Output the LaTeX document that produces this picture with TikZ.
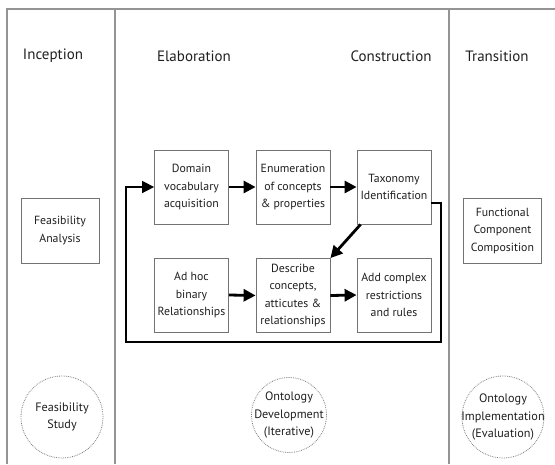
\documentclass[tikz,border=0pt]{standalone}
\usepackage{fontspec}
\setmainfont{PT Sans}
\usetikzlibrary{arrows.meta,calc}
\tikzset{
  frameline/.style={draw=black!42, line width=1.2pt},
  stepbox/.style={draw=black!55, line width=0.8pt, minimum width=74pt, minimum height=74pt, inner sep=1pt, align=center, font=\fontsize{11.8}{17.5}\selectfont, text=black!88},
  sidebox/.style={draw=black!55, line width=0.8pt, minimum width=78pt, minimum height=65pt, inner sep=1pt, align=center, font=\fontsize{11.8}{17.5}\selectfont, text=black!88},
  phase/.style={circle, draw=black!50, densely dotted, line width=0.8pt, align=center, inner sep=-14pt, font=\fontsize{12.2}{17.5}\selectfont, text=black!88},
  heading/.style={font=\fontsize{15}{17}\selectfont, text=black!88},
  bigarrow/.style={line width=2.8pt, -{Triangle[length=12pt,width=12pt]}},
  looparrow/.style={line width=1.6pt, -{Triangle[length=12pt,width=12pt]}}
}
\begin{document}
\begin{tikzpicture}[x=1pt,y=-1pt]
\useasboundingbox (0,0) rectangle (555,464);
% frame
\draw[frameline] (7,464) -- (7,9) -- (556,9);
\draw[frameline] (115,9) -- (115,464);
\draw[frameline] (449,9) -- (449,464);
% headings
\node[heading] (hinc) at (53,56) {Inception};
\node[heading] (hela) at (194,56) {Elaboration};
\node[heading] (hcon) at (391,56) {Construction};
\node[heading] (htra) at (497,56) {Transition};
% side boxes
\node[sidebox] (fa) at (60,230.5) {Feasibility\\Analysis};
\node[sidebox] (fcc) at (502.5,230.5) {Functional\\Component\\Composition};
% step boxes
\node[stepbox] (b1) at (191.5,187) {Domain\\vocabulary\\acquisition};
\node[stepbox] (b2) at (293,187) {Enumeration\\of concepts\\\& properties};
\node[stepbox] (b3) at (394,187) {Taxonomy\\Identification};
\node[stepbox] (b4) at (191.5,295) {Ad hoc\\binary\\Relationships};
\node[stepbox] (b5) at (293,295.5) {Describe\\concepts,\\atticutes \&\\relationships};
\node[stepbox] (b6) at (394,295) {Add complex\\restrictions\\and rules};
% arrows
\draw[bigarrow] (b1.east) -- (b2.west);
\draw[bigarrow] (b2.east) -- (b3.west);
\draw[bigarrow] (b4.east) -- (b5.west);
\draw[bigarrow] (b5.east) -- (b6.west);
\draw[bigarrow] ([xshift=4pt]b3.south west) -- (b5.north east);
% feedback loop
\coordinate (la) at (441,342);
\coordinate (lb) at (126,342);
\draw[looparrow] ([yshift=-16pt]b3.east) -| (la) -- (lb) |- (b1.west);
% phases
\node[phase, minimum size=82pt] (fs) at (62,417) {Feasibility\\Study};
\node[phase, minimum size=75pt] (od) at (289,415) {Ontology\\Development\\(Iterative)};
\node[phase, minimum size=82pt] (oi) at (503,417) {Ontology\\Implementation\\(Evaluation)};
\end{tikzpicture}
\end{document}
